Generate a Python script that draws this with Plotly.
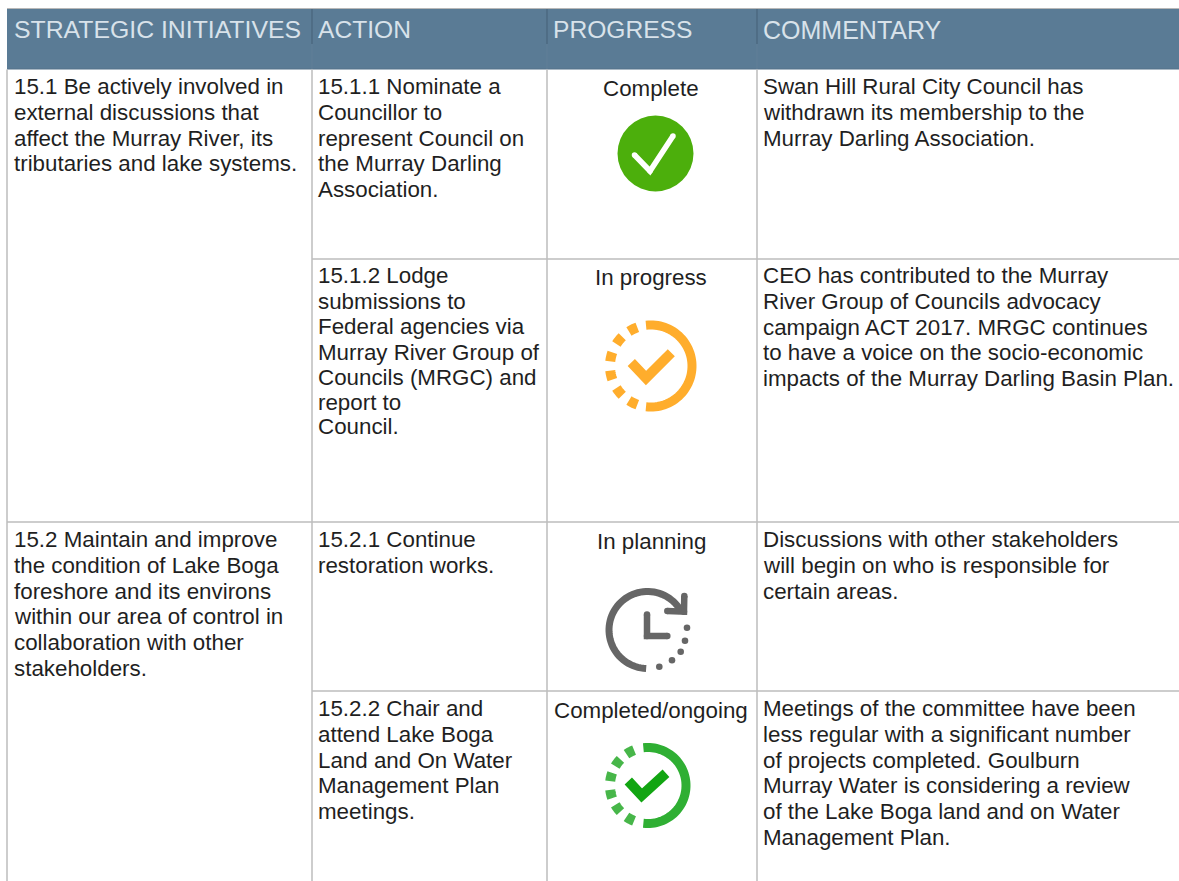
import numpy as np
import plotly.graph_objects as go

W, H = 1179, 881

# ---- table content ----
headers = ["STRATEGIC INITIATIVES", "ACTION", "PROGRESS", "COMMENTARY"]
initiatives = [
    ["15.1 Be actively involved in", "external discussions that", "affect the Murray River, its",
     "tributaries and lake systems."],
    [],
    ["15.2 Maintain and improve", "the condition of Lake Boga", "foreshore and its environs",
     "within our area of control in", "collaboration with other", "stakeholders."],
    [],
]
actions = [
    ["15.1.1 Nominate a", "Councillor to", "represent Council on", "the Murray Darling", "Association."],
    ["15.1.2 Lodge", "submissions to", "Federal agencies via", "Murray River Group of",
     "Councils (MRGC) and", "report to", "Council."],
    ["15.2.1 Continue", "restoration works."],
    ["15.2.2 Chair and", "attend Lake Boga", "Land and On Water", "Management Plan", "meetings."],
]
progress = ["Complete", "In progress", "In planning", "Completed/ongoing"]
commentary = [
    ["Swan Hill Rural City Council has", "withdrawn its membership to the", "Murray Darling Association."],
    ["CEO has contributed to the Murray", "River Group of Councils advocacy",
     "campaign ACT 2017. MRGC continues", "to have a voice on the socio-economic",
     "impacts of the Murray Darling Basin Plan."],
    ["Discussions with other stakeholders", "will begin on who is responsible for", "certain areas."],
    ["Meetings of the committee have been", "less regular with a significant number",
     "of projects completed. Goulburn", "Murray Water is considering a review",
     "of the Lake Boga land and on Water", "Management Plan."],
]

# ---- layout ----
col_lines = [7, 312, 547, 757]
text_x = [11.5, 316, 651, 761]
head_x = [11.5, 316, 551, 761]
head_size = [24.8, 24.6, 24.6, 25]
row_first_y = [86.5, 275.5, 539.5, 708.5]
line_h = 25.8
action_row2_y = [275.5, 301, 326.5, 352, 377.5, 402, 426.5]
HEAD_BG = "#5A7B95"
HEAD_TXT = "#D8E2EA"
BODY_TXT = "#1F1F1F"
GRID = "#BCBCBC"
FONT = "Liberation Sans"
BODY_SIZE = 22.35

shapes, annos = [], []


def line(x0, y0, x1, y1, color=GRID, width=1.5):
    shapes.append(dict(type="line", x0=x0, y0=y0, x1=x1, y1=y1, line=dict(color=color, width=width)))


def disc(cx, cy, r, color):
    shapes.append(dict(type="circle", x0=cx - r, x1=cx + r, y0=cy - r, y1=cy + r,
                       fillcolor=color, line=dict(width=0)))


def poly(pts, color, width):
    d = "M" + " L".join(f"{x:.2f},{y:.2f}" for x, y in pts)
    shapes.append(dict(type="path", path=d, line=dict(color=color, width=width)))


def arc(cx, cy, r, a0, a1, color, width, n=60):
    t = np.radians(np.linspace(a0, a1, n))
    poly(list(zip(cx + r * np.cos(t), cy - r * np.sin(t))), color, width)


def text(x, y, s, size=BODY_SIZE, color=BODY_TXT, anchor="left"):
    annos.append(dict(x=x, y=y, xref="x", yref="y", text=s, showarrow=False, xanchor=anchor,
                      yanchor="middle", align=anchor, font=dict(family=FONT, size=size, color=color)))


# header band
shapes.append(dict(type="rect", x0=7, x1=W, y0=9, y1=69, fillcolor=HEAD_BG, line=dict(width=0)))
line(7, 8.5, W, 8.5, "#B8B8B8", 1.2)
line(7, 69, W, 69, "#55728A", 1.2)
for x in col_lines[1:]:
    line(x, 9, x, 44, "#48657C", 1.2)
    line(x, 44, x, 69, "#607F98", 1.2)
for i, h in enumerate(headers):
    text(head_x[i], 29.5, h, size=head_size[i], color=HEAD_TXT)

# grid
for x in col_lines:
    line(x, 69.5, x, H)
line(312, 259, W, 259)
line(7, 522, W, 522)
line(312, 691, W, 691)

# body text
for r in range(4):
    y0 = row_first_y[r]
    for col, block in ((0, initiatives), (1, actions), (3, commentary)):
        for k, s in enumerate(block[r]):
            y = action_row2_y[k] if (col == 1 and r == 1) else y0 + k * line_h
            text(text_x[col], y, s)
    text(text_x[2], y0 + 2, progress[r], anchor="center")

# icon: complete
disc(655.5, 153.5, 38, "#4CAF0C")
poly([(634.5, 155), (650, 171), (673, 136)], "white", 5.5)
disc(634.5, 155, 2.75, "white"); disc(650, 171, 2.75, "white"); disc(673, 136, 2.75, "white")

# icon: in progress
ORANGE = "#FFAD2C"
arc(651, 366, 41, 97, -97, ORANGE, 9)
for a in (116, 141, 167, 193, 219, 244):
    arc(651, 366, 41, a - 6.5, a + 6.5, ORANGE, 10, n=8)
poly([(631.3, 362.5), (646, 378), (671.3, 352.7)], ORANGE, 10)

# icon: in planning
GREY = "#666666"
arc(647.5, 630, 38.5, 268, 27, GREY, 7)
poly([(684.3, 596), (684, 611.7), (667.3, 611)], GREY, 6.5)
for p in ((684.3, 596), (684, 611.7), (667.3, 611), (647, 614.5), (647, 636), (667.3, 636)):
    disc(p[0], p[1], 3.25, GREY)
poly([(647, 614.5), (647, 636), (667.3, 636)], GREY, 6.5)
for p in ((659.3, 666.7), (672, 660.3), (680.7, 651.7), (685, 640.7), (687, 627.7)):
    disc(p[0], p[1], 3.3, GREY)

# icon: completed/ongoing
arc(648, 785.5, 38, 97, -97, "#2FAF33", 9)
for a in (118, 143, 167, 193, 217, 242):
    arc(648, 785.5, 38, a - 6.5, a + 6.5, "#47B649", 10, n=8)
poly([(628.3, 781), (641.7, 795.5), (666, 773.2)], "#12A512", 10)

fig = go.Figure()
fig.update_layout(
    width=W, height=H, autosize=False, margin=dict(l=0, r=0, t=0, b=0),
    paper_bgcolor="white", plot_bgcolor="white", showlegend=False,
    xaxis=dict(range=[0, W], visible=False, fixedrange=True),
    yaxis=dict(range=[H, 0], visible=False, fixedrange=True),
    shapes=shapes, annotations=annos,
)
fig.write_html("out.html", config={"displayModeBar": False},
               post_script="document.body.style.margin='0';document.body.style.overflow='hidden';")
